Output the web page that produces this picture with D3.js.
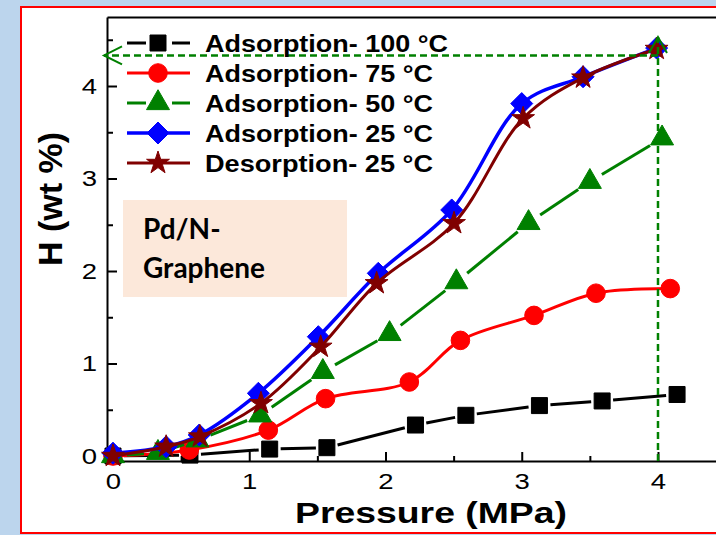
<!DOCTYPE html>
<html>
<head>
<meta charset="utf-8">
<script src="https://cdn.jsdelivr.net/npm/d3@7"></script>
<style>
  html, body { margin: 0; padding: 0; background: #bcd5ed; }
  svg { display: block; }
</style>
</head>
<body>
<svg id="chart" width="716" height="535"></svg>
<script>
// ---------------- DATA ----------------
const xTicks = [0, 1, 2, 3, 4];
const yTicks = [0, 1, 2, 3, 4];
const xMinorTicks = [0.5, 1.5, 2.5, 3.5];
const yMinorTicks = [0.5, 1.5, 2.5, 3.5, 4.5];

const legendLabels = ["Adsorption- 100 \u00B0C", "Adsorption- 75 \u00B0C", "Adsorption- 50 \u00B0C", "Adsorption- 25 \u00B0C", "Desorption- 25 \u00B0C"];

const ads100P = [0, 0.565, 1.15, 1.57, 2.22, 2.59, 3.13, 3.59, 4.14];
const ads100H = [0, 0.01, 0.075, 0.09, 0.335, 0.44, 0.545, 0.595, 0.665];

const ads75P = [0, 0.56, 1.14, 1.56, 2.175, 2.55, 3.09, 3.545, 4.09];
const ads75H = [0, 0.065, 0.28, 0.62, 0.80, 1.25, 1.52, 1.76, 1.81];

const ads50P = [0, 0.33, 0.62, 1.08, 1.54, 2.03, 2.52, 3.05, 3.50, 4.03];
const ads50H = [0, 0.035, 0.17, 0.44, 0.91, 1.32, 1.88, 2.52, 2.965, 3.435];

const ads25P = [0, 0.39, 0.633, 1.067, 1.507, 1.947, 2.486, 3.0, 3.45, 3.99];
const ads25H = [0.03, 0.10, 0.227, 0.678, 1.29, 1.975, 2.66, 3.81, 4.10, 4.41];

const des25P = [0, 0.39, 0.638, 1.086, 1.524, 1.935, 2.503, 3.01, 3.45, 3.99];
const des25H = [0, 0.10, 0.21, 0.57, 1.18, 1.867, 2.516, 3.65, 4.09, 4.40];

// guide annotation (data units)
const guidePressure = 4.0;
const guideH = 4.33;
const guideArrowP = -0.066;
const guideTopH = 4.53;

const boxLines = ["Pd/N-", "Graphene"];

// ---------------- SETUP ----------------
const svg = d3.select("#chart");
const W = 716, H = 535;

const x = d3.scaleLinear().domain([-0.044, 4.45]).range([107, 719.3]);
const y = d3.scaleLinear().domain([-0.054, 4.746]).range([461, 17]);

// background & frame
svg.append("rect").attr("x", 0).attr("y", 0).attr("width", W).attr("height", H).attr("fill", "#bcd5ed");
svg.append("rect").attr("x", 21).attr("y", 7).attr("width", 720).attr("height", 526)
  .attr("fill", "#ffffff").attr("stroke", "#ff0000").attr("stroke-width", 2);

// text box
svg.append("rect").attr("x", 123).attr("y", 200).attr("width", 224).attr("height", 97).attr("fill", "#fce8da");
svg.selectAll("text.box").data(boxLines).enter().append("text")
  .attr("class", "box")
  .attr("x", 143).attr("y", (d, i) => 239 + i * 39)
  .attr("font-family", "Lato, 'Open Sans', sans-serif").attr("font-weight", "bold")
  .attr("font-size", 28).attr("fill", "#000")
  .text(d => d);

// ---------------- AXES ----------------
const axisFont = "'Liberation Sans', Arial, sans-serif";
function styleAxis(g) {
  g.select(".domain").attr("stroke", "#000").attr("stroke-width", 2);
  g.selectAll(".tick line").attr("stroke", "#000").attr("stroke-width", 2);
  g.selectAll(".tick text").attr("font-family", axisFont).attr("font-size", 22).attr("fill", "#000");
}

const gx = svg.append("g").attr("transform", "translate(0,461)")
  .call(d3.axisBottom(x).tickValues(xTicks).tickSizeInner(-9).tickSizeOuter(0).tickPadding(12).tickFormat(d3.format("d")));
styleAxis(gx);
gx.selectAll(".tick text").attr("transform", "scale(1.25,1)");

const gxm = svg.append("g").attr("transform", "translate(0,461)")
  .call(d3.axisBottom(x).tickValues(xMinorTicks).tickSizeInner(-5).tickSizeOuter(0).tickFormat(""));
styleAxis(gxm);
gxm.select(".domain").remove();

const gy = svg.append("g").attr("transform", "translate(107,0)")
  .call(d3.axisLeft(y).tickValues(yTicks).tickSizeInner(-10).tickSizeOuter(0).tickPadding(8).tickFormat(d3.format("d")));
styleAxis(gy);
gy.selectAll(".tick text").attr("transform", "scale(1.25,1)");

const gym = svg.append("g").attr("transform", "translate(107,0)")
  .call(d3.axisLeft(y).tickValues(yMinorTicks).tickSizeInner(-6).tickSizeOuter(0).tickFormat(""));
styleAxis(gym);
gym.select(".domain").remove();

const gtop = svg.append("g").attr("transform", "translate(0,17)")
  .call(d3.axisTop(x).tickValues([]).tickSizeOuter(0));
styleAxis(gtop);
const gright = svg.append("g").attr("transform", "translate(719.3,0)")
  .call(d3.axisRight(y).tickValues([]).tickSizeOuter(0));
styleAxis(gright);

// axis titles
svg.append("text").attr("x", 431).attr("y", 523)
  .attr("text-anchor", "middle").attr("font-family", axisFont).attr("font-weight", "bold")
  .attr("font-size", 30).attr("textLength", 272).attr("lengthAdjust", "spacingAndGlyphs")
  .attr("fill", "#000").text("Pressure (MPa)");
svg.append("text").attr("transform", "translate(62,199) rotate(-90)")
  .attr("text-anchor", "middle").attr("font-family", axisFont).attr("font-weight", "bold")
  .attr("font-size", 34).attr("fill", "#000").text("H (wt %)");

// ---------------- SYMBOLS ----------------
const diamondType = {
  draw(ctx, size) {
    const r = Math.sqrt(size / 2);
    ctx.moveTo(0, -r); ctx.lineTo(r, 0); ctx.lineTo(0, r); ctx.lineTo(-r, 0); ctx.closePath();
  }
};

const series = [
  { P: ads100P, Hv: ads100H, color: "#000000", type: d3.symbolSquare, size: 256, smooth: false, gap: 11, lw: 3 },
  { P: ads75P, Hv: ads75H, color: "#ff0000", type: d3.symbolCircle, size: 272, smooth: true, gap: 0, lw: 3 },
  { P: ads50P, Hv: ads50H, color: "#008000", type: d3.symbolTriangle, size: 229, smooth: false, gap: 14, lw: 3 },
  { P: ads25P, Hv: ads25H, color: "#0000ff", type: diamondType, size: 242, smooth: true, gap: 0, lw: 3.5 },
  { P: des25P, Hv: des25H, color: "#800000", type: d3.symbolStar, size: 162, smooth: true, gap: 0, lw: 3 }
];

const plot = svg.append("g");
series.forEach(s => {
  const pts = s.P.map((p, i) => [x(p), y(s.Hv[i])]);
  if (s.smooth) {
    plot.append("path").attr("d", d3.line().curve(d3.curveCatmullRom.alpha(0.5))(pts))
      .attr("fill", "none").attr("stroke", s.color).attr("stroke-width", s.lw);
  } else {
    for (let i = 0; i < pts.length - 1; i++) {
      const [x0, y0] = pts[i], [x1, y1] = pts[i + 1];
      const dx = x1 - x0, dy = y1 - y0, len = Math.hypot(dx, dy);
      if (len <= 2 * s.gap) continue;
      const ux = dx / len, uy = dy / len;
      plot.append("line")
        .attr("x1", x0 + ux * s.gap).attr("y1", y0 + uy * s.gap)
        .attr("x2", x1 - ux * s.gap).attr("y2", y1 - uy * s.gap)
        .attr("stroke", s.color).attr("stroke-width", s.lw);
    }
  }
  plot.selectAll(null).data(pts).enter().append("path")
    .attr("transform", d => `translate(${d[0]},${d[1]})`)
    .attr("d", d3.symbol().type(s.type).size(s.size))
    .attr("fill", s.color).attr("stroke", s.color).attr("stroke-width", 1);
});

// ---------------- GUIDES ----------------
const green = "#008000";
const gGuide = svg.append("g");
gGuide.append("line")
  .attr("x1", x(guidePressure)).attr("y1", y(guideH))
  .attr("x2", x(guideArrowP)).attr("y2", y(guideH))
  .attr("stroke", green).attr("stroke-width", 2.5).attr("stroke-dasharray", "7,4");
gGuide.append("line")
  .attr("x1", x(guidePressure)).attr("y1", y(-0.054))
  .attr("x2", x(guidePressure)).attr("y2", y(guideTopH))
  .attr("stroke", green).attr("stroke-width", 2.5).attr("stroke-dasharray", "7,4");
const lt = [x(guideArrowP), y(guideH)];
gGuide.append("path")
  .attr("d", `M${lt[0] + 18},${lt[1] - 9}L${lt[0]},${lt[1]}L${lt[0] + 18},${lt[1] + 9}`)
  .attr("fill", "none").attr("stroke", green).attr("stroke-width", 2);
const ut = [x(guidePressure), y(guideTopH)];
gGuide.append("path")
  .attr("d", `M${ut[0] - 9},${ut[1] + 16}L${ut[0]},${ut[1]}L${ut[0] + 9},${ut[1] + 16}`)
  .attr("fill", "none").attr("stroke", green).attr("stroke-width", 2);

// ---------------- LEGEND ----------------
const legendWidths = [243, 228, 228, 228, 228];
const leg = svg.append("g");
series.forEach((s, i) => {
  const cy = 43 + i * 30;
  const mx = 158;
  if (s.gap > 0) {
    leg.append("line").attr("x1", 127).attr("y1", cy).attr("x2", mx - 12).attr("y2", cy)
      .attr("stroke", s.color).attr("stroke-width", s.lw);
    leg.append("line").attr("x1", mx + 14).attr("y1", cy).attr("x2", 190).attr("y2", cy)
      .attr("stroke", s.color).attr("stroke-width", s.lw);
  } else {
    leg.append("line").attr("x1", 127).attr("y1", cy).attr("x2", 190).attr("y2", cy)
      .attr("stroke", s.color).attr("stroke-width", s.lw);
  }
  leg.append("path").attr("transform", `translate(${mx},${cy})`)
    .attr("d", d3.symbol().type(s.type).size(s.size))
    .attr("fill", s.color).attr("stroke", s.color).attr("stroke-width", 1);
  leg.append("text").attr("x", 205).attr("y", cy + 9)
    .attr("font-family", axisFont).attr("font-weight", "bold").attr("font-size", 23)
    .attr("textLength", legendWidths[i]).attr("lengthAdjust", "spacingAndGlyphs")
    .attr("fill", "#000").text(legendLabels[i]);
});
</script>
</body>
</html>
